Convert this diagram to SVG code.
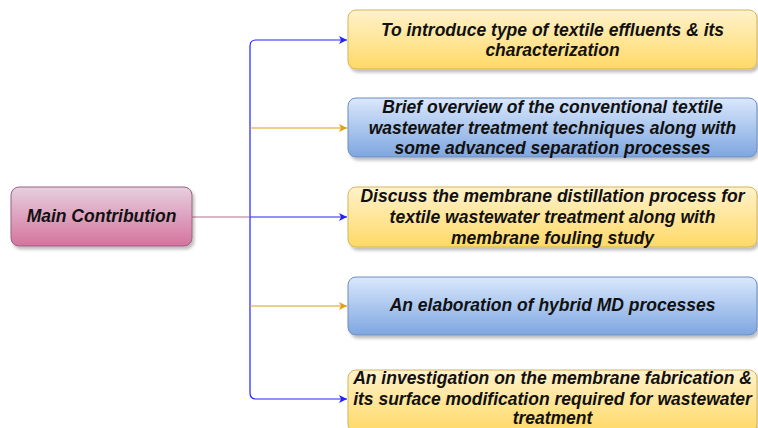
<svg xmlns="http://www.w3.org/2000/svg" width="758" height="428" viewBox="0 0 758 428">
<style>
text{font-family:"Liberation Sans",Arial,sans-serif;font-weight:bold;font-style:italic;font-size:17.5px;fill:#111;text-anchor:middle}
.y{fill:url(#gy);stroke:#d6b656;stroke-width:1}
.b{fill:url(#gb);stroke:#6c8ebf;stroke-width:1}
.p{fill:url(#gp);stroke:#996185;stroke-width:1}
.cb{fill:none;stroke:#2222ff;stroke-width:1.2}
.co{fill:none;stroke:#e0a010;stroke-width:1.2}
</style>
<defs>
<linearGradient id="gy" x1="0" y1="0" x2="0" y2="1"><stop offset="0" stop-color="#fff2cc"/><stop offset="1" stop-color="#ffd966"/></linearGradient>
<linearGradient id="gb" x1="0" y1="0" x2="0" y2="1"><stop offset="0" stop-color="#dae8fc"/><stop offset="1" stop-color="#7ea6e0"/></linearGradient>
<linearGradient id="gp" x1="0" y1="0" x2="0" y2="1"><stop offset="0" stop-color="#e6d0de"/><stop offset="1" stop-color="#d5739d"/></linearGradient>
<filter id="sh" x="-10%" y="-20%" width="130%" height="160%"><feDropShadow dx="2" dy="3" stdDeviation="1.5" flood-color="#000" flood-opacity="0.25"/></filter>
<marker id="ab" markerWidth="10" markerHeight="10" refX="8" refY="4" orient="auto" markerUnits="userSpaceOnUse"><path d="M0,0 L8,4 L0,8 L2,4 Z" fill="#2222ff"/></marker>
<marker id="ao" markerWidth="10" markerHeight="10" refX="8" refY="4" orient="auto" markerUnits="userSpaceOnUse"><path d="M0,0 L8,4 L0,8 L2,4 Z" fill="#e0a010"/></marker>
</defs>
<rect width="758" height="428" fill="#fff"/>
<g id="connectors">
<path class="cb" d="M250,217 L250,46 Q250,40 256,40 L347,40" marker-end="url(#ab)"/>
<path class="cb" d="M250,217 L250,393 Q250,399 256,399 L347,399" marker-end="url(#ab)"/>
<path class="cb" d="M250,217 L347,217" marker-end="url(#ab)"/>
<path class="co" d="M250,128 L347,128" marker-end="url(#ao)"/>
<path class="co" d="M250,306 L347,306" marker-end="url(#ao)"/>
<path d="M192,217 L250,217" fill="none" stroke="#b07090" stroke-width="1"/>
</g>
<g id="main">
<rect class="p" x="11" y="187" width="181" height="59" rx="8" filter="url(#sh)"/>
<text x="101.5" y="222">Main Contribution</text>
</g>
<g id="n1">
<rect class="y" x="348" y="10" width="409" height="59" rx="8" filter="url(#sh)"/>
<text x="552.5" y="36">To introduce type of textile effluents &amp; its</text>
<text x="552.5" y="56">characterization</text>
</g>
<g id="n2">
<rect class="b" x="348" y="98" width="409" height="59" rx="8" filter="url(#sh)"/>
<text x="552.5" y="113">Brief overview of the conventional textile</text>
<text x="552.5" y="134">wastewater treatment techniques along with</text>
<text x="552.5" y="154">some advanced separation processes</text>
</g>
<g id="n3">
<rect class="y" x="348" y="187" width="409" height="60" rx="8" filter="url(#sh)"/>
<text x="552.5" y="202">Discuss the membrane distillation process for</text>
<text x="552.5" y="223">textile wastewater treatment along with</text>
<text x="552.5" y="244">membrane fouling study</text>
</g>
<g id="n4">
<rect class="b" x="348" y="277" width="409" height="58" rx="8" filter="url(#sh)"/>
<text x="552.5" y="311">An elaboration of hybrid MD processes</text>
</g>
<g id="n5">
<rect class="y" x="348" y="370" width="409" height="62" rx="8" filter="url(#sh)"/>
<text x="552.5" y="384">An investigation on the membrane fabrication &amp;</text>
<text x="552.5" y="405">its surface modification required for wastewater</text>
<text x="552.5" y="424">treatment</text>
</g>
</svg>
